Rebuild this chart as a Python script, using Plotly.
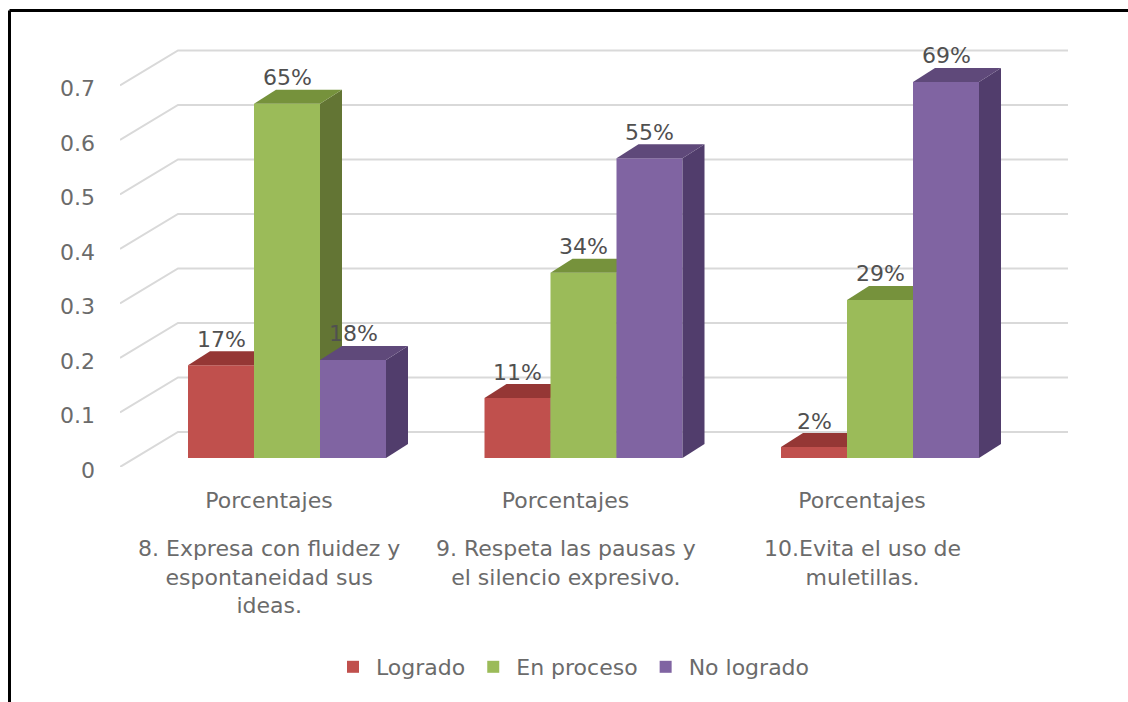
import plotly.graph_objects as go

# ---- data ----
categories = ["Porcentajes", "Porcentajes", "Porcentajes"]
questions = ["8. Expresa con fluidez y<br>espontaneidad sus<br>ideas.",
             "9. Respeta las pausas y<br>el silencio expresivo.",
             "10.Evita el uso de<br>muletillas."]
series_names = ["Logrado", "En proceso", "No logrado"]
logrado = [0.17, 0.11, 0.02]
en_proceso = [0.65, 0.34, 0.29]
no_logrado = [0.18, 0.55, 0.69]
y_ticks = [0, 0.1, 0.2, 0.3, 0.4, 0.5, 0.6, 0.7]
y_labels = ["0", "0.1", "0.2", "0.3", "0.4", "0.5", "0.6", "0.7"]
front_colors = ["#C0504D", "#9BBB59", "#8064A2"]
top_colors = ["#953735", "#76923C", "#5F497A"]
side_colors = ["#7F2F2D", "#637534", "#513D6C"]

W, H = 1128, 702
PX_X, PX_Y = 296.5, 545.0       # pixels per category / per unit
PL, PR, PB, PT = 120, 1068, 467, 31
BAR_W = 66 / PX_X
DX, DY = 22 / PX_X, 14 / PX_Y   # bar depth
WX, WY = 58 / PX_X, 35 / PX_Y   # wall depth
TXT = "#6B6B6B"
FONT = "DejaVu Sans"
FS = 22


def fx(px):
    return px / W


def fy(py):
    return 1 - py / H


fig = go.Figure()
xdom = [fx(PL), fx(PR)]
ydom = [fy(PB), fy(PT)]

# base subplot: the wall plane, with the axes
base_x0 = 269
base_range = [(PL - base_x0) / PX_X, (PR - base_x0) / PX_X]
for v in y_ticks:
    x0 = base_range[0]
    fig.add_trace(go.Scatter(x=[x0, x0 + WX, base_range[1]], y=[v, v + WY, v + WY], mode="lines",
                             line=dict(color="#D9D9D9", width=2), showlegend=False, hoverinfo="skip",
                             xaxis="x", yaxis="y", cliponaxis=False))
fig.add_trace(go.Scatter(x=[0, 1, 2], y=[0, 0, 0], mode="markers", marker=dict(opacity=0),
                         showlegend=False, hoverinfo="skip", xaxis="x", yaxis="y"))

layout_axes = dict(
    xaxis=dict(domain=xdom, range=base_range, tickmode="array", tickvals=[0, 1, 2], ticktext=categories,
               showgrid=False, zeroline=False, showline=False, ticks="", ticklabelstandoff=18,
               tickfont=dict(family=FONT, size=FS, color=TXT)),
    yaxis=dict(domain=ydom, range=[0, (PB - PT) / PX_Y], tickmode="array", tickvals=y_ticks, ticktext=y_labels,
               showgrid=False, zeroline=False, showline=False, ticks="", ticklabelstandoff=24, ticklabelshift=3,
               tickfont=dict(family=FONT, size=FS, color=TXT)),
)

# one overlaid subplot per series, so that later series hide earlier ones
bar_x0 = 287
bar_base = 458
xr = [(PL - bar_x0) / PX_X, (PR - bar_x0) / PX_X]
yr = [(bar_base - PB) / PX_Y, (bar_base - PT) / PX_Y]
all_series = [logrado, en_proceso, no_logrado]
annotations = []
for s, vals in enumerate(all_series):
    ax = s + 2
    xa, ya = f"x{ax}", f"y{ax}"
    offs = (s - 1) * BAR_W
    fig.add_trace(go.Bar(x=[0, 1, 2], y=vals, base=0, width=BAR_W, offset=offs - BAR_W / 2,
                         name=series_names[s], marker=dict(color=front_colors[s], line=dict(width=0)),
                         xaxis=xa, yaxis=ya, showlegend=True))
    for c, v in enumerate(vals):
        x0 = c + offs - BAR_W / 2
        x1 = x0 + BAR_W
        fig.add_trace(go.Scatter(x=[x1, x1 + DX, x1 + DX, x1, x1], y=[0, DY, v + DY, v, 0], mode="lines",
                                 fill="toself", fillcolor=side_colors[s], line=dict(width=0),
                                 showlegend=False, hoverinfo="skip", xaxis=xa, yaxis=ya))
        fig.add_trace(go.Scatter(x=[x0, x0 + DX, x1 + DX, x1, x0], y=[v, v + DY, v + DY, v, v], mode="lines",
                                 fill="toself", fillcolor=top_colors[s], line=dict(width=0),
                                 showlegend=False, hoverinfo="skip", xaxis=xa, yaxis=ya))
        annotations.append(dict(x=c + offs, y=v, xref=xa, yref=ya, text=f"{round(v * 100)}%", showarrow=False,
                                yshift=26, font=dict(family=FONT, size=FS, color="#505050")))
    layout_axes[f"xaxis{ax}"] = dict(domain=xdom, range=xr, overlaying="x", visible=False, anchor=f"y{ax}")
    layout_axes[f"yaxis{ax}"] = dict(domain=ydom, range=yr, overlaying="y", visible=False, anchor=f"x{ax}")

for c, q in enumerate(questions):
    annotations.append(dict(x=c, y=0, xref="x", yref="y", text=q, showarrow=False, yanchor="top",
                            yshift=-67, align="center", font=dict(family=FONT, size=FS, color=TXT)))

shapes = [dict(type="line", xref="paper", yref="paper", x0=fx(9.5), x1=fx(9.5), y0=0, y1=fy(10.5),
               line=dict(color="black", width=3)),
          dict(type="line", xref="paper", yref="paper", x0=fx(9.5), x1=1, y0=fy(10.5), y1=fy(10.5),
               line=dict(color="black", width=3))]

fig.update_layout(
    width=W, height=H, margin=dict(l=0, r=0, t=0, b=0, autoexpand=False), autosize=False,
    paper_bgcolor="white", plot_bgcolor="rgba(0,0,0,0)", barmode="overlay", showlegend=True,
    legend=dict(orientation="h", x=fx(572.5), xanchor="center", y=fy(667), yanchor="middle", itemwidth=36,
                font=dict(family=FONT, size=FS, color=TXT), traceorder="normal"),
    annotations=annotations, shapes=shapes, **layout_axes)

fig.write_html("out.html", config=dict(displayModeBar=False),
               post_script="document.body.style.margin='0';")
